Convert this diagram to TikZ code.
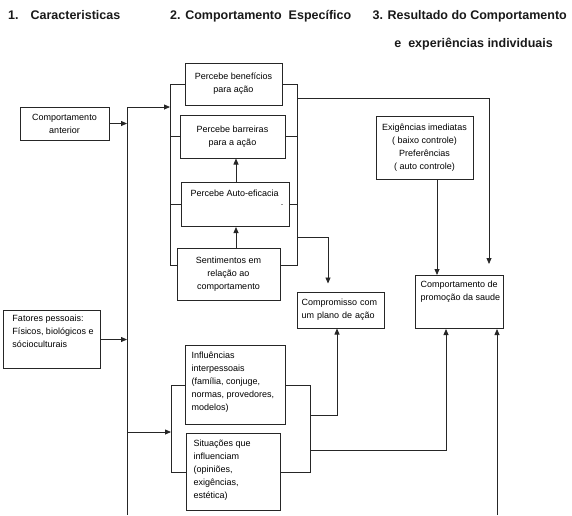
\documentclass[tikz,border=0pt]{standalone}
\usepackage{fontspec}
\setmainfont{Liberation Sans}
\usetikzlibrary{arrows.meta,calc}

% text block anchored to the top of a box: width, height, top gap, left gap, text
\newcommand{\topblock}[5]{\parbox[t][#2][t]{#1}{\vspace*{#3}\raggedright\leftskip=#4\relax #5}}
\newcommand{\topcentered}[4]{\parbox[t][#2][t]{#1}{\vspace*{#3}\centering #4}}

\begin{document}
\begin{tikzpicture}[x=1pt,y=-1pt,
  box/.style={draw=black!85, line width=1pt, inner sep=0pt,
    font=\fontsize{9}{13}\selectfont, align=center},
  link/.style={draw=black!85, line width=0.8pt},
  arr/.style={link, -{Triangle[length=6pt,width=5pt]}},
  heading/.style={font=\fontsize{12.5}{15}\selectfont\bfseries, inner sep=0pt, text=black!90}
]
\useasboundingbox (0,0) rectangle (572,515);

% column headings
\node[heading, anchor=base west] (h1) at (8,19) {1.\hspace{12pt}Caracteristicas};
\node[heading, anchor=base west] (h2) at (170,19) {2. Comportamento\ \ Específico};
\node[heading, anchor=base east] (h3) at (567,19) {3. Resultado do Comportamento};
\node[heading, anchor=base east] (h3b) at (553,47) {e\ \ experiências individuais};

% column 1
\node[box, minimum width=89pt, minimum height=33pt] (ant) at (64.5,123.5) {Comportamento\\anterior};
\node[box, anchor=north west] (fat) at (3,310)
  {\topblock{97pt}{58pt}{4pt}{9pt}{Fatores pessoais:\\Físicos, biológicos e\\sócioculturais}};

% column 2, upper group
\node[box, minimum width=97pt, minimum height=42pt] (ben) at (233.5,84) {Percebe benefícios\\para ação};
\node[box, minimum width=105pt, minimum height=43pt] (bar) at (232.5,136.5) {Percebe barreiras\\para a ação};
\node[box, anchor=north west] (auto) at (181,182)
  {\topblock{108pt}{44pt}{7pt}{9pt}{Percebe Auto-eficacia}};
\node[font=\fontsize{9}{9}\selectfont, inner sep=0pt] (mark) at (282,205) {.};
\node[box, minimum width=103pt, minimum height=52pt] (sen) at (228.5,274) {Sentimentos em\\relação ao\\comportamento};

% column 2, lower group
\node[box, anchor=north west] (inf) at (185,345)
  {\topblock{100pt}{79pt}{6pt}{6pt}{Influências\\interpessoais\\(família, conjuge,\\normas, provedores,\\modelos)}};
\node[box, anchor=north west] (sit) at (186,433)
  {\topblock{94pt}{77pt}{6pt}{7pt}{Situações que\\influenciam\\(opiniões,\\exigências,\\estética)}};

\node[box, minimum width=87pt, minimum height=36pt, text width=78pt, align=left] (comp) at (340.5,310)
  {Compromisso com\\um plano de ação};

% column 3
\node[box, minimum width=97pt, minimum height=63pt] (exi) at (424.5,147.5)
  {Exigências imediatas\\( baixo controle)\\Preferências\\( auto controle)};
\node[box, anchor=north west] (prom) at (415,275)
  {\topblock{88pt}{53pt}{5pt}{5pt}{Comportamento de\\promoção da saude}};

% guide coordinates
\coordinate (trunktop) at (127,107);
\coordinate (trunkbot) at (127,515);
\coordinate (lowin) at (127,432);
\coordinate (lb) at (170,0);
\coordinate (rb) at (297,0);
\coordinate (llb) at (171,0);
\coordinate (lrb) at (310,0);
\coordinate (xm) at (236,0);
\coordinate (xr) at (489,0);
\coordinate (xc) at (328,0);
\coordinate (xe) at (437,0);
\coordinate (xc2) at (337,0);
\coordinate (xp) at (446,0);
\coordinate (rb1) at (297,98);
\coordinate (rb2) at (297,237);
\coordinate (lr1) at (310,415);
\coordinate (lr2) at (310,450);
\coordinate (pbot) at (497,515);
\coordinate (senl) at ($(sen.west)+(0,-9)$);
\coordinate (senr) at ($(sen.east)+(0,-9)$);

% trunk from the personal characteristics
\draw[link] (trunktop) -- (trunkbot);
\draw[arr] (ant.east) -- (ant.east -| trunktop);
\draw[arr] (fat.east) -- (fat.east -| trunktop);
\draw[arr] (trunktop) -- (trunktop -| lb);
\draw[arr] (lowin) -- (lowin -| llb);

% upper bracket, left side
\draw[link] (ben.west) -- (ben.west -| lb) -- (senl -| lb) -- (senl);
\draw[link] (bar.west) -- (bar.west -| lb);
\draw[link] (auto.west) -- (auto.west -| lb);

% upper bracket, right side
\draw[link] (ben.east) -- (ben.east -| rb) -- (senr -| rb) -- (senr);
\draw[link] (bar.east) -- (bar.east -| rb);
\draw[link] (auto.east) -- (auto.east -| rb);

% links inside the upper group
\draw[arr] (auto.north -| xm) -- (bar.south -| xm);
\draw[arr] (sen.north -| xm) -- (auto.south -| xm);

% from the upper group
\draw[arr, shorten >=11pt] (rb1) -| (prom.north -| xr);
\draw[arr, shorten >=8pt] (rb2) -| (comp.north -| xc);
\draw[arr] (exi.south -| xe) -- (prom.north -| xe);

% lower bracket
\draw[link] (inf.west) -- (inf.west -| llb) -- (sit.west -| llb) -- (sit.west);
\draw[link] (inf.east) -- (inf.east -| lrb) -- (sit.east -| lrb) -- (sit.east);
\draw[arr] (lr1) -| (comp.south -| xc2);
\draw[arr] (lr2) -| (prom.south -| xp);

% feedback from below
\draw[arr] (pbot) -- (prom.south -| pbot);
\end{tikzpicture}
\end{document}
